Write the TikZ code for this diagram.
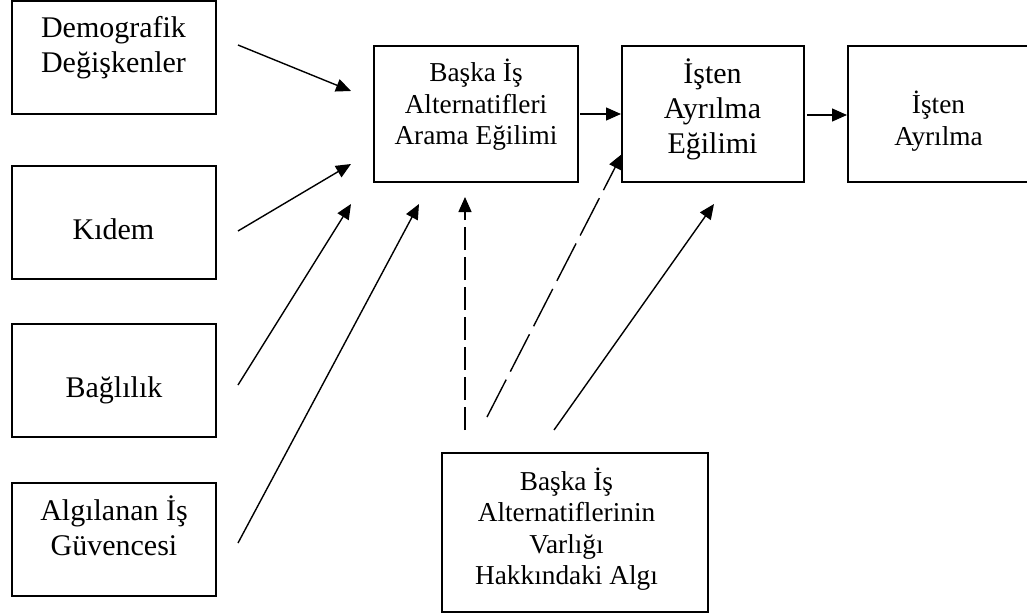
\documentclass[tikz,border=0pt]{standalone}
\usepackage{fontspec}
\setmainfont{Liberation Serif}
\usetikzlibrary{arrows.meta}
% invisible struts fixing the height of a first text line
\newcommand{\TA}{\rule{0pt}{28pt}}
\newcommand{\TB}{\rule{0pt}{26pt}}
\begin{document}
\begin{tikzpicture}[x=1pt, y=-1pt,
  frame/.style={draw, line width=2pt, inner sep=0pt},
  bigtext/.style={font=\fontsize{30}{35}\selectfont, align=center, inner sep=0pt, anchor=north},
  smalltext/.style={font=\fontsize{27.3}{31.5}\selectfont, align=center, inner sep=0pt, anchor=north},
  arr/.style={-{Triangle[length=15pt,width=13pt]}, line width=1.4pt},
  dashv/.style={arr, dash pattern=on 23pt off 7pt},
  dashd/.style={arr, dash pattern=on 42pt off 9pt}]
\useasboundingbox (0,0) rectangle (1027,615);

% frames
\node[frame, minimum width=204pt, minimum height=112.5pt] (b1) at (114,57.75) {};
\node[frame, minimum width=204pt, minimum height=113pt] (b2) at (114,222.5) {};
\node[frame, minimum width=204pt, minimum height=113pt] (b3) at (114,380.5) {};
\node[frame, minimum width=204pt, minimum height=113pt] (b4) at (114,539.5) {};
\node[frame, minimum width=204pt, minimum height=136pt] (m1) at (476,114) {};
\node[frame, minimum width=182pt, minimum height=136pt] (m2) at (713,114) {};
\node[frame, minimum width=182pt, minimum height=136pt] (m3) at (939,114) {};
\node[frame, minimum width=266pt, minimum height=159pt] (m4) at (575,532.5) {};

% labels
\node[bigtext] (t1) at (113.5,9.3) {\TA Demografik\\Değişkenler};
\node[bigtext, anchor=base] (t2) at (113.5,239) {Kıdem};
\node[bigtext, anchor=base] (t3) at (114,397) {Bağlılık};
\node[bigtext] (t4) at (114,492) {\TA Algılanan İş\\Güvencesi};
\node[smalltext] (tm1) at (476,55.7) {\TB Başka İş\\Alternatifleri\\Arama Eğilimi};
\node[bigtext] (tm2) at (712.5,55.3) {\TA İşten\\Ayrılma\\Eğilimi};
\node[smalltext] (tm3) at (938.5,87.3) {\TB İşten\\Ayrılma};
\node[smalltext] (tm4) at (566.5,464) {\TB Başka İş\\Alternatiflerinin\\Varlığı\\Hakkındaki Algı};

% connector ends
\coordinate (s1) at (238,45);   \coordinate (e1) at (351,91);
\coordinate (s2) at (238,231);  \coordinate (e2) at (351,164);
\coordinate (s3) at (238,385);  \coordinate (e3) at (351,204);
\coordinate (s4) at (238,543);  \coordinate (e4) at (419,204);
\coordinate (s5) at (465,430);  \coordinate (e5) at (465,197);
\coordinate (s6) at (487,417);  \coordinate (e6) at (622,154);
\coordinate (s7) at (554,430);  \coordinate (e7) at (714,204);
\coordinate (s8) at (580,114);  \coordinate (e8) at (621,114);
\coordinate (s9) at (807,115);  \coordinate (e9) at (847,115);

% connectors
\draw[arr] (s1) -- (e1);
\draw[arr] (s2) -- (e2);
\draw[arr] (s3) -- (e3);
\draw[arr] (s4) -- (e4);
\draw[dashv] (s5) -- (e5);
\draw[dashd] (s6) -- (e6);
\draw[arr] (s7) -- (e7);
\draw[arr] (s8) -- (e8);
\draw[arr] (s9) -- (e9);
\end{tikzpicture}
\end{document}
